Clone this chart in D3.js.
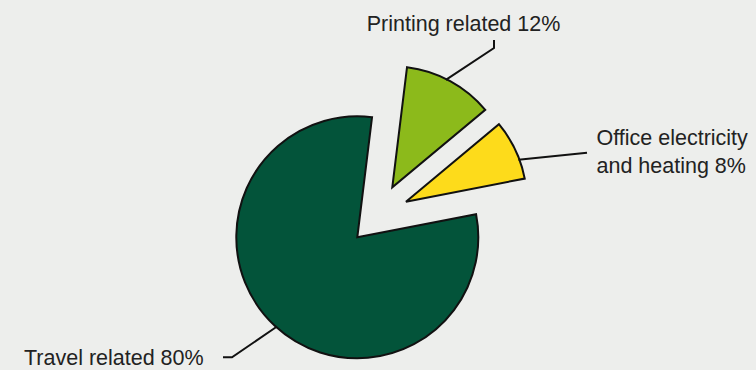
<!DOCTYPE html>
<html>
<head>
<meta charset="utf-8">
<script src="https://cdn.jsdelivr.net/npm/d3@7"></script>
<style>
  html, body { margin: 0; padding: 0; background: #edeeec; }
  svg { display: block; }
  text { font-family: "Liberation Sans", Arial, Helvetica, sans-serif; fill: #222; }
</style>
</head>
<body>
<svg id="chart" width="756" height="370"></svg>
<script>
// ---- data ----
const categories = ["Printing related", "Office electricity and heating", "Travel related"];
const values = [12, 8, 80];
const labelLines = [["Printing related 12%"], ["Office electricity", "and heating 8%"], ["Travel related 80%"]];
const colors = ["#8cba1b", "#fddb1b", "#03543a"];

// ---- layout ----
const W = 756, H = 370;
const cx = 357.3, cy = 237.3, R = 121;
const startDeg = 7;
const explode = [{ dist: 61, dir: 35 }, { dist: 60.3, dir: 53.8 }, { dist: 0, dir: 0 }];
const leaderDeg = [26.5, 69.6, 222];
const labelLayout = [
  { x: 463.5, y: 31, anchor: "middle", pts: [[494, 48], [494, 40]] },
  { x: 596.5, y: 145, anchor: "start", pts: [[587, 152.7]] },
  { x: 24, y: 364.5, anchor: "start", pts: [[232, 357.3], [223, 357.3]] }
];
const rad = d => d * Math.PI / 180;

const svg = d3.select("#chart");
svg.append("rect").attr("width", W).attr("height", H).attr("fill", "#edeeec");

const pie = d3.pie().sort(null).value(d => d.v)
  .startAngle(rad(startDeg)).endAngle(rad(startDeg + 360));
const data = categories.map((c, i) => ({ c, v: values[i], i }));
const arcs = pie(data);
const arc = d3.arc().innerRadius(0).outerRadius(R);

const g = svg.append("g").attr("transform", `translate(${cx},${cy})`);

const offset = i => {
  const e = explode[i];
  return [e.dist * Math.sin(rad(e.dir)), -e.dist * Math.cos(rad(e.dir))];
};

// leaders
arcs.forEach((a, i) => {
  const [ox, oy] = offset(i);
  const ang = rad(leaderDeg[i]);
  const p0 = [cx + ox + (R - 1) * Math.sin(ang), cy + oy - (R - 1) * Math.cos(ang)];
  const pts = [p0, ...labelLayout[i].pts];
  svg.append("path")
    .attr("d", d3.line()(pts))
    .attr("fill", "none")
    .attr("stroke", "#111")
    .attr("stroke-width", 2);
});

// slices
g.selectAll("path.slice").data(arcs).join("path")
  .attr("class", "slice")
  .attr("transform", d => { const [ox, oy] = offset(d.data.i); return `translate(${ox},${oy})`; })
  .attr("d", arc)
  .attr("fill", d => colors[d.data.i])
  .attr("stroke", "#111")
  .attr("stroke-width", 2)
  .attr("stroke-linejoin", "miter");

// labels
labelLayout.forEach((L, i) => {
  const t = svg.append("text")
    .attr("x", L.x).attr("y", L.y)
    .attr("text-anchor", L.anchor)
    .style("font-size", "21.5px");
  labelLines[i].forEach((line, k) => {
    t.append("tspan").attr("x", L.x).attr("dy", k === 0 ? 0 : 27.5).text(line);
  });
});
</script>
</body>
</html>
